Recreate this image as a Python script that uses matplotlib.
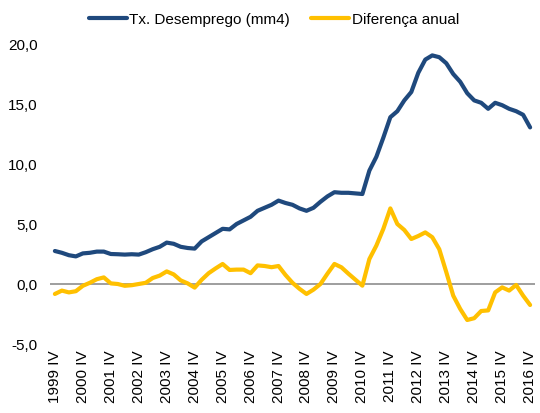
import matplotlib.pyplot as plt

plt.rcParams['font.family'] = ['Liberation Sans', 'DejaVu Sans']

# trimestres 1999 IV .. 2016 IV
anos = list(range(1999, 2017))
rotulos = [str(a) + ' IV' for a in anos]

desemprego = [2.75, 2.6, 2.4, 2.3, 2.55, 2.6, 2.7, 2.7, 2.5, 2.48,
              2.45, 2.48, 2.45, 2.65, 2.9, 3.1, 3.45, 3.35, 3.1, 3.0,
              2.95, 3.55, 3.9, 4.25, 4.6, 4.55, 5.0, 5.3, 5.6, 6.1,
              6.35, 6.6, 6.95, 6.75, 6.6, 6.3, 6.1, 6.35, 6.85, 7.3,
              7.65, 7.6, 7.6, 7.55, 7.5, 9.45, 10.6, 12.2, 13.9, 14.4,
              15.3, 16.0, 17.6, 18.7, 19.05, 18.9, 18.4, 17.5, 16.85, 15.9,
              15.3, 15.1, 14.6, 15.1, 14.9, 14.6, 14.4, 14.1, 13.05]

diferenca = [-0.83, -0.55, -0.7, -0.6, -0.15, 0.1, 0.4, 0.55, 0.05, 0.0,
             -0.15, -0.1, 0.0, 0.1, 0.5, 0.7, 1.05, 0.8, 0.3, 0.05,
             -0.3, 0.35, 0.9, 1.3, 1.67, 1.17, 1.2, 1.2, 0.9, 1.55,
             1.5, 1.4, 1.5, 0.75, 0.1, -0.4, -0.83, -0.47, 0.0, 0.86,
             1.67, 1.39, 0.86, 0.36, -0.14, 2.08, 3.2, 4.6, 6.3, 5.0,
             4.5, 3.75, 4.0, 4.3, 3.9, 2.9, 1.0, -0.97, -2.08, -3.0,
             -2.85, -2.25, -2.2, -0.7, -0.28, -0.55, -0.08, -0.97, -1.75]

x = list(range(len(desemprego)))

fig = plt.figure(figsize=(5.4, 4.14), dpi=100)
ax = fig.add_axes([50/540, 69/414, 485/540, 300/414])

ax.axhline(0, color='#969696', lw=1.3, zorder=1)
ax.plot(x, desemprego, color='#1F497D', lw=3, label='Tx. Desemprego (mm4)',
        solid_capstyle='round', solid_joinstyle='round')
ax.plot(x, diferenca, color='#FFC000', lw=3, label='Diferença anual',
        solid_capstyle='round', solid_joinstyle='round')

ax.set_xlim(-0.7, 68.7)
ax.set_ylim(-5, 20)
ax.set_yticks([-5, 0, 5, 10, 15, 20])
ax.set_yticklabels(['-5,0', '0,0', '5,0', '10,0', '15,0', '20,0'], fontsize=11)
ax.set_xticks(list(range(0, 69, 4)))
ax.set_xticklabels(rotulos, rotation=90, fontsize=11)
ax.tick_params(axis='y', length=0, pad=9)
ax.tick_params(axis='x', length=0, pad=4)
for s in ax.spines.values():
    s.set_visible(False)

fig.legend(loc='center', bbox_to_anchor=(0.507, 0.952), ncol=2, frameon=False,
           fontsize=11, handlelength=2.5, handletextpad=0.15, columnspacing=1.4)

fig.savefig('out.png', dpi=100)
